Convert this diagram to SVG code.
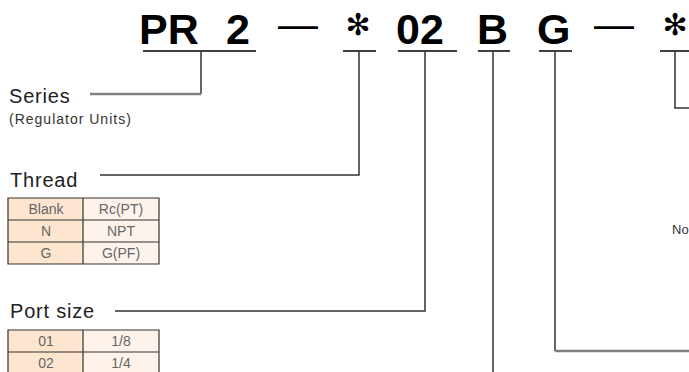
<svg xmlns="http://www.w3.org/2000/svg" width="689" height="372" viewBox="0 0 689 372">
<style>
.t{font-family:"Liberation Sans",Arial,sans-serif;font-weight:bold;font-size:43px;fill:#000}
.dash{font-family:"Liberation Sans",Arial,sans-serif;font-size:40px;fill:#000}
.star{font-family:"DejaVu Sans",sans-serif;font-size:30px;fill:#000;text-anchor:middle}
.ul{stroke:#000;stroke-width:1.5;fill:none}
.lab{font-family:"Liberation Sans",Arial,sans-serif;font-size:20px;fill:#222;letter-spacing:0.8px}
.sub{font-family:"Liberation Sans",Arial,sans-serif;font-size:14px;fill:#333;letter-spacing:1px}
.cell{font-family:"Liberation Sans",Arial,sans-serif;font-size:14px;fill:#666;text-anchor:middle}
.c1{fill:#fde5cf}
.c2{fill:#fdf3ea}
.grid{stroke:#333;stroke-width:1.2;fill:none}
.con{stroke:#333;stroke-width:1.5;fill:none}
.con2{stroke:#808080;stroke-width:2.5;fill:none}
</style>
<g id="title">
<text class="t" x="139" y="44">PR</text>
<text class="t" x="226" y="44">2</text>
<text class="dash" x="278" y="38">—</text>
<text class="star" x="358" y="35">✻</text>
<text class="t" x="396" y="44">02</text>
<text class="t" x="477" y="44">B</text>
<text class="t" x="537" y="44">G</text>
<text class="dash" x="594" y="38">—</text>
<text class="star" x="675" y="35">✻</text>
<path class="ul" d="M143 51H256M343 51H376M398 51H457M478 51H510M539 51H572M660 51H689"/>
</g>
<g id="connectors">
<path class="con" d="M201 51V94"/>
<path class="con2" d="M90 94H201"/>
<path class="con" d="M359 51V175H100"/>
<path class="con" d="M425 51V311H115"/>
<path class="con" d="M493 51V372"/>
<path class="con" d="M555 51V351"/>
<path class="con2" d="M555 351H689"/>
<path class="con" d="M675 51V108H689"/>
</g>
<g id="series">
<text class="lab" x="9" y="103">Series</text>
<text class="sub" x="9" y="124">(Regulator Units)</text>
</g>
<g id="thread">
<text class="lab" x="10" y="187">Thread</text>
<rect class="c1" x="8" y="198" width="75" height="66"/>
<rect class="c2" x="83" y="198" width="76" height="66"/>
<path class="grid" d="M8 198H159V264H8ZM83 198V264M8 220H159M8 242H159"/>
<text class="cell" x="46" y="214">Blank</text>
<text class="cell" x="121" y="214">Rc(PT)</text>
<text class="cell" x="46" y="236">N</text>
<text class="cell" x="121" y="236">NPT</text>
<text class="cell" x="46" y="258">G</text>
<text class="cell" x="121" y="258">G(PF)</text>
</g>
<g id="portsize">
<text class="lab" x="10" y="318">Port size</text>
<rect class="c1" x="8" y="330" width="75" height="46"/>
<rect class="c2" x="83" y="330" width="76" height="46"/>
<path class="grid" d="M8 376V330H159V376M83 330V376M8 352H159"/>
<text class="cell" x="46" y="346">01</text>
<text class="cell" x="121" y="346">1/8</text>
<text class="cell" x="46" y="368">02</text>
<text class="cell" x="121" y="368">1/4</text>
</g>
<g id="note">
<text x="672" y="234" style="font-family:'Liberation Sans',Arial,sans-serif;font-size:13px;fill:#333">No</text>
</g>
</svg>
